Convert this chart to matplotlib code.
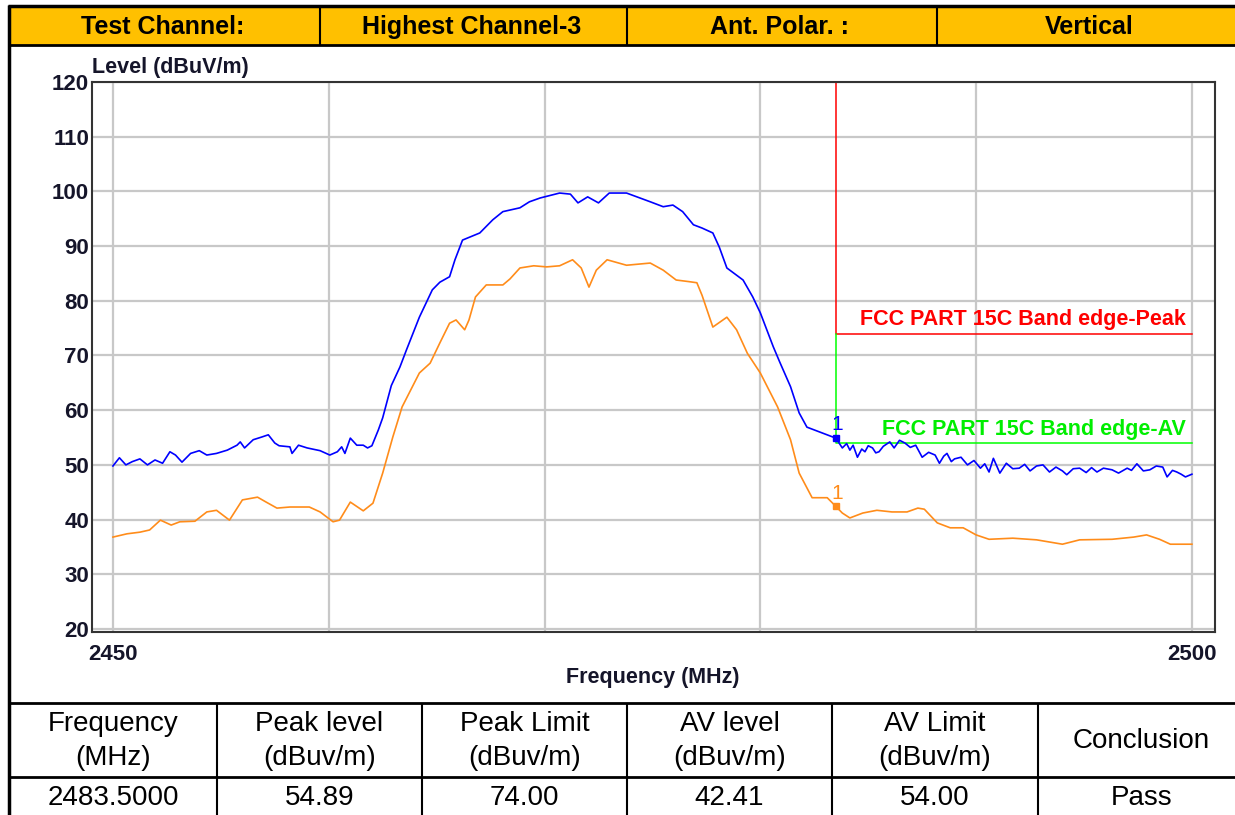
import matplotlib
matplotlib.use("Agg")
import matplotlib.pyplot as plt
from matplotlib.lines import Line2D
from matplotlib.patches import Rectangle

# header / table contents
header_labels = ["Test Channel:", "Highest Channel-3", "Ant. Polar. :", "Vertical"]
table_head = ["Frequency\n(MHz)", "Peak level\n(dBuv/m)", "Peak Limit\n(dBuv/m)",
              "AV level\n(dBuv/m)", "AV Limit\n(dBuv/m)", "Conclusion"]
table_row = ["2483.5000", "54.89", "74.00", "42.41", "54.00", "Pass"]

# band edge + limits
edge_freq = 2483.5
peak_limit = 74.0
av_limit = 54.0
peak_mark = 54.89
av_mark = 42.41

# peak trace (blue)
peak_freq = [2450.0, 2450.3, 2450.6, 2450.9, 2451.25, 2451.6, 2451.95, 2452.3, 2452.64, 2452.9,
             2453.2, 2453.6, 2454.0, 2454.35, 2454.8, 2455.3, 2455.75, 2455.9, 2456.1, 2456.5,
             2456.9, 2457.2, 2457.5, 2457.7, 2458.2, 2458.3, 2458.6, 2459.0, 2459.6, 2460.05,
             2460.4, 2460.6, 2460.75, 2461.0, 2461.3, 2461.6, 2461.8, 2462.0, 2462.3, 2462.5,
             2462.9, 2463.3, 2463.6, 2464.2, 2464.8, 2465.15, 2465.6, 2465.85, 2466.2, 2467.0,
             2467.6, 2468.07, 2468.86, 2469.3, 2469.8, 2470.7, 2471.2, 2471.55, 2472.0, 2472.5,
             2473.0, 2473.8, 2474.9, 2475.5, 2475.95, 2476.4, 2476.9, 2477.3, 2477.8, 2478.1,
             2478.45, 2479.2, 2479.65, 2480.0, 2480.6, 2480.9, 2481.4, 2481.8, 2482.16, 2482.76,
             2483.5, 2483.8, 2484.0, 2484.15, 2484.3, 2484.5, 2484.7, 2484.85, 2485.0, 2485.2,
             2485.35, 2485.5, 2485.7, 2486.0, 2486.2, 2486.45, 2486.7, 2486.95, 2487.2, 2487.5,
             2487.8, 2488.1, 2488.3, 2488.5, 2488.65, 2488.85, 2489.0, 2489.3, 2489.6, 2489.9,
             2490.2, 2490.4, 2490.6, 2490.8, 2491.1, 2491.4, 2491.7, 2492.0, 2492.25, 2492.5,
             2492.8, 2493.1, 2493.4, 2493.7, 2494.0, 2494.2, 2494.5, 2494.8, 2495.1, 2495.35,
             2495.6, 2495.9, 2496.3, 2496.6, 2497.0, 2497.2, 2497.45, 2497.75, 2498.05, 2498.35,
             2498.65, 2498.85, 2499.1, 2499.3, 2499.5, 2499.7, 2500.0]
peak_level = [49.8, 51.3, 50.0, 50.6, 51.1, 50.0, 50.9, 50.3, 52.4, 51.8,
              50.5, 52.1, 52.6, 51.8, 52.1, 52.7, 53.6, 54.2, 53.1, 54.6,
              55.1, 55.5, 54.0, 53.5, 53.3, 52.1, 53.6, 53.1, 52.6, 51.8,
              52.4, 53.3, 52.1, 54.9, 53.6, 53.6, 53.1, 53.5, 56.4, 58.6,
              64.5, 67.9, 71.0, 77.0, 82.0, 83.4, 84.4, 87.5, 91.1, 92.4,
              94.8, 96.3, 97.0, 98.1, 98.8, 99.7, 99.5, 97.9, 99.0, 97.9,
              99.7, 99.7, 98.1, 97.2, 97.5, 96.3, 93.9, 93.3, 92.4, 89.8,
              86.0, 83.8, 80.7, 77.8, 71.6, 68.8, 64.3, 59.5, 56.9, 56.0,
              54.89, 53.1, 53.9, 52.7, 53.6, 51.4, 52.9, 52.4, 53.5, 53.1,
              52.2, 52.4, 53.4, 54.2, 53.1, 54.5, 54.0, 53.2, 53.6, 51.4,
              52.3, 51.8, 50.3, 51.6, 52.1, 50.6, 51.1, 51.4, 50.0, 50.8,
              49.4, 50.2, 48.7, 51.2, 48.5, 50.3, 49.3, 49.4, 50.1, 48.9,
              49.8, 50.0, 48.7, 49.6, 48.9, 48.2, 49.3, 49.4, 48.6, 49.5,
              48.7, 49.4, 49.1, 48.5, 49.4, 49.0, 50.2, 48.9, 49.1, 49.8,
              49.6, 47.8, 49.0, 48.7, 48.3, 47.8, 48.3]

# average trace (orange)
av_freq = [2450.0, 2450.65, 2451.25, 2451.7, 2452.2, 2452.7, 2453.1, 2453.8, 2454.35, 2454.8,
           2455.4, 2456.0, 2456.7, 2457.1, 2457.6, 2458.2, 2459.1, 2459.6, 2460.2, 2460.5,
           2461.0, 2461.6, 2462.05, 2462.5, 2462.97, 2463.4, 2464.2, 2464.7, 2465.15, 2465.6,
           2465.9, 2466.3, 2466.5, 2466.8, 2467.3, 2468.07, 2468.4, 2468.86, 2469.5, 2470.1,
           2470.7, 2471.3, 2471.7, 2472.06, 2472.4, 2472.9, 2473.8, 2474.9, 2475.5, 2476.1,
           2476.7, 2477.06, 2477.3, 2477.8, 2478.45, 2478.9, 2479.4, 2480.0, 2480.8, 2481.4,
           2481.8, 2482.4, 2483.1, 2483.5, 2483.8, 2484.15, 2484.75, 2485.4, 2486.1, 2486.8,
           2487.3, 2487.6, 2488.2, 2488.8, 2489.4, 2490.0, 2490.6, 2491.7, 2492.8, 2494.0,
           2494.8, 2496.3, 2497.3, 2497.9, 2498.5, 2499.0, 2500.0]
av_level = [36.8, 37.4, 37.7, 38.1, 39.9, 39.0, 39.6, 39.7, 41.4, 41.7,
            39.9, 43.6, 44.1, 43.2, 42.1, 42.3, 42.3, 41.4, 39.6, 39.9,
            43.2, 41.6, 43.0, 48.5, 55.1, 60.6, 66.8, 68.6, 72.3, 75.9,
            76.5, 74.7, 76.5, 80.7, 82.9, 82.9, 84.0, 86.0, 86.4, 86.2,
            86.4, 87.5, 86.0, 82.5, 85.6, 87.5, 86.5, 86.9, 85.6, 83.8,
            83.5, 83.3, 81.0, 75.2, 77.0, 74.7, 70.4, 66.8, 60.6, 54.6,
            48.5, 44.0, 44.0, 42.41, 41.2, 40.3, 41.2, 41.7, 41.4, 41.4,
            42.1, 41.9, 39.4, 38.5, 38.5, 37.2, 36.4, 36.6, 36.3, 35.5,
            36.3, 36.4, 36.8, 37.2, 36.4, 35.5, 35.5]

W, H = 1235, 815


def fx(x):
    return x / W


def fy(y):
    return 1 - y / H


def hline(fig, x0, x1, y, lw=1.5):
    fig.add_artist(Line2D([fx(x0), fx(x1)], [fy(y), fy(y)], transform=fig.transFigure,
                          color="black", lw=lw, solid_capstyle="butt"))


def vline(fig, x, y0, y1, lw=1.5):
    fig.add_artist(Line2D([fx(x), fx(x)], [fy(y0), fy(y1)], transform=fig.transFigure,
                          color="black", lw=lw, solid_capstyle="butt"))


narrow = ["Liberation Sans Narrow", "Liberation Sans", "DejaVu Sans"]
arial = ["Liberation Sans", "DejaVu Sans"]
ink = "#15152a"

fig = plt.figure(figsize=(W / 100, H / 100), dpi=100)
fig.patch.set_facecolor("white")

# header band
fig.add_artist(Rectangle((fx(10), fy(45)), (W - 10) / W, 39 / H, transform=fig.transFigure,
                         facecolor="#FFC000", edgecolor="none"))
hline(fig, 8, W, 6, lw=2.5)
hline(fig, 10, W, 45, lw=2)
vline(fig, 9, 5, H, lw=2.5)
hcols = [10, 320, 627, 937, 1245]
for x in hcols[1:-1]:
    vline(fig, x, 6, 45, lw=1.5)
for i, lab in enumerate(header_labels):
    fig.text(fx((hcols[i] + hcols[i + 1]) / 2 - 2), fy(27), lab, ha="center", va="center",
             fontsize=18, fontweight="bold", family=narrow)

# chart
ax = fig.add_axes([fx(92), fy(632), (1215 - 92) / W, (632 - 82) / H])
ax.plot(peak_freq, peak_level, color="#0000FF", lw=1.2, zorder=3)
ax.plot(av_freq, av_level, color="#FF8C1A", lw=1.2, zorder=3)

ax.plot([edge_freq, edge_freq, 2500], [120, peak_limit, peak_limit], color="#FF0000", lw=1.1, zorder=2)
ax.plot([edge_freq, edge_freq, 2500], [peak_limit, av_limit, av_limit], color="#00FF00", lw=1.1, zorder=2)
ax.text(2499.7, peak_limit + 0.7, "FCC PART 15C Band edge-Peak", color="#FF0000", ha="right",
        va="bottom", fontsize=15.5, fontweight="bold", family=arial)
ax.text(2499.7, av_limit + 0.5, "FCC PART 15C Band edge-AV", color="#00EE00", ha="right",
        va="bottom", fontsize=15.5, fontweight="bold", family=arial)

ax.plot([edge_freq], [peak_mark], marker="s", ms=4, color="#0000FF", zorder=4)
ax.plot([edge_freq], [av_mark], marker="s", ms=4, color="#FF8C1A", zorder=4)
ax.text(edge_freq + 0.05, peak_mark + 0.7, "1", color="#0000FF", ha="center", va="bottom",
        fontsize=15, family=arial)
ax.text(edge_freq + 0.05, av_mark + 0.7, "1", color="#FF8C1A", ha="center", va="bottom",
        fontsize=15, family=arial)

ax.set_xlim(2449.03, 2501.07)
ax.set_ylim(19.45, 120)
ax.set_xticks([2450, 2460, 2470, 2480, 2490, 2500])
ax.set_xticklabels(["2450", "", "", "", "", "2500"])
ax.set_yticks(range(20, 121, 10))
ax.grid(True, color="#C8C8C8", lw=1.6, zorder=0)
ax.set_axisbelow(True)
ax.tick_params(length=0, pad=2, labelsize=16, labelcolor=ink)
for lab in ax.get_xticklabels() + ax.get_yticklabels():
    lab.set_fontweight("bold")
    lab.set_family(arial)
ax.tick_params(axis="x", pad=9)
for sp in ax.spines.values():
    sp.set_color("#333333")
    sp.set_linewidth(1.5)

fig.text(fx(92), fy(68), "Level (dBuV/m)", ha="left", va="center", fontsize=15.5,
         fontweight="bold", color=ink, family=arial)
fig.text(fx(653), fy(677), "Frequency (MHz)", ha="center", va="center", fontsize=15.5,
         fontweight="bold", color=ink, family=arial)

# result table
tcols = [10, 217, 422, 627, 832, 1038, 1245]
hline(fig, 10, W, 703, lw=2)
hline(fig, 10, W, 777, lw=2)
for x in tcols[1:-1]:
    vline(fig, x, 703, H, lw=1.5)
for i in range(len(table_head)):
    cx = fx((tcols[i] + tcols[i + 1]) / 2)
    fig.text(cx, fy(741), table_head[i], ha="center", va="center", fontsize=20,
             family=narrow, linespacing=1.42)
    fig.text(cx, fy(798), table_row[i], ha="center", va="center", fontsize=20, family=narrow)

fig.savefig("out.png", dpi=100)
